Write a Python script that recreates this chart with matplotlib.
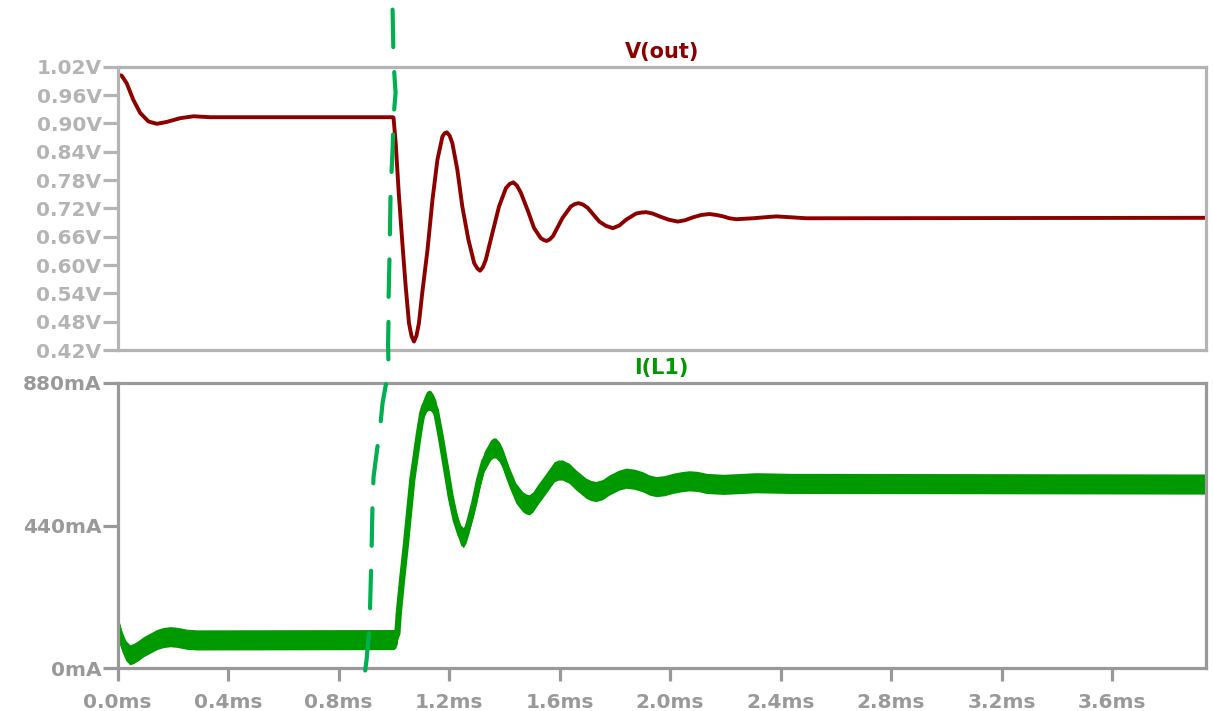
import numpy as np
import matplotlib
matplotlib.use('Agg')
import matplotlib.pyplot as plt
from matplotlib.ticker import FixedLocator, FuncFormatter

# V(out) (time in ms, volts)
t_v = [0.000, 0.015, 0.033, 0.057, 0.082, 0.112, 0.142, 0.178, 0.227, 0.275,
       0.336, 0.444, 0.996, 0.999, 1.007, 1.018, 1.031, 1.043, 1.055, 1.064,
       1.073, 1.082, 1.091, 1.103, 1.122, 1.140, 1.158, 1.176, 1.184, 1.192,
       1.202, 1.212, 1.230, 1.248, 1.270, 1.291, 1.302, 1.312, 1.322, 1.333,
       1.357, 1.381, 1.406, 1.420, 1.433, 1.446, 1.460, 1.484, 1.508, 1.532,
       1.543, 1.553, 1.564, 1.576, 1.611, 1.641, 1.655, 1.669, 1.685, 1.702,
       1.744, 1.768, 1.793, 1.817, 1.841, 1.877, 1.895, 1.913, 1.937, 1.962,
       1.995, 2.028, 2.055, 2.083, 2.113, 2.143, 2.168, 2.192, 2.215, 2.240,
       2.270, 2.300, 2.340, 2.385, 2.440, 2.494, 3.940]
v_out = [1.003, 1.001, 0.985, 0.950, 0.922, 0.904, 0.899, 0.903, 0.911, 0.915,
         0.913, 0.913, 0.913, 0.912, 0.858, 0.752, 0.647, 0.555, 0.477, 0.450,
         0.438, 0.450, 0.477, 0.541, 0.632, 0.738, 0.823, 0.872, 0.879, 0.881,
         0.874, 0.858, 0.802, 0.724, 0.654, 0.604, 0.593, 0.588, 0.595, 0.611,
         0.668, 0.724, 0.763, 0.772, 0.775, 0.768, 0.753, 0.717, 0.678, 0.657,
         0.653, 0.651, 0.654, 0.661, 0.700, 0.724, 0.729, 0.731, 0.728, 0.721,
         0.692, 0.683, 0.678, 0.684, 0.696, 0.709, 0.711, 0.712, 0.709, 0.703,
         0.696, 0.692, 0.695, 0.701, 0.706, 0.708, 0.706, 0.703, 0.699, 0.697,
         0.698, 0.699, 0.701, 0.703, 0.701, 0.699, 0.700]

# I(L1) centre of the ripple band (time in ms, mA)
t_i = [0.000, 0.015, 0.030, 0.045, 0.060, 0.075, 0.094, 0.142, 0.165, 0.190,
       0.215, 0.251, 0.287, 1.000, 1.007, 1.013, 1.018, 1.030, 1.043, 1.055,
       1.067, 1.079, 1.091, 1.103, 1.110, 1.119, 1.126, 1.133, 1.142, 1.152,
       1.170, 1.188, 1.206, 1.224, 1.242, 1.252, 1.262, 1.272, 1.291, 1.309,
       1.327, 1.351, 1.360, 1.369, 1.382, 1.394, 1.417, 1.442, 1.466, 1.478,
       1.490, 1.503, 1.520, 1.551, 1.581, 1.596, 1.611, 1.635, 1.659, 1.696,
       1.714, 1.732, 1.756, 1.780, 1.815, 1.841, 1.870, 1.901, 1.925, 1.950,
       1.980, 2.010, 2.040, 2.070, 2.100, 2.131, 2.192, 2.312, 2.433, 3.940]
i_l1 = [131, 85, 55, 42, 47, 55, 67, 89, 95, 98,
        96, 90, 88, 89, 94, 108, 170, 273, 375, 478,
        581, 652, 724, 786, 806, 822, 826, 825, 815, 796,
        714, 622, 529, 457, 411, 403, 418, 447, 509, 581,
        637, 673, 679, 679, 667, 647, 591, 540, 514, 507,
        504, 512, 534, 570, 606, 611, 611, 601, 581, 555,
        548, 545, 551, 565, 580, 586, 583, 575, 565, 560,
        563, 570, 575, 578, 576, 570, 567, 572, 570, 568]
ripple = 31  # half height of the switching ripple band, mA

# hand drawn dashed marker, in the lower pane's units (ms, mA)
mark_t = [0.9956, 0.9993, 1.0065, 0.9993, 0.9956, 0.9884, 0.9848, 0.9811, 0.9811,
          0.9793, 0.9811, 0.9594, 0.9521, 0.9267, 0.9231, 0.9195, 0.9122, 0.9014, 0.8850]
mark_i = [2029, 1865, 1773, 1699, 1597, 1468, 1280, 1136, 1083,
          997, 920, 818, 756, 590, 510, 359, 128, 26, -82]

x_ticks = [0.0, 0.4, 0.8, 1.2, 1.6, 2.0, 2.4, 2.8, 3.2, 3.6]
v_ticks = [0.42, 0.48, 0.54, 0.60, 0.66, 0.72, 0.78, 0.84, 0.90, 0.96, 1.02]
i_ticks = [0, 440, 880]

plt.rcParams['font.family'] = ['DejaVu Sans']
plt.rcParams['font.weight'] = 'bold'

fig = plt.figure(figsize=(12.13, 7.11), dpi=100)
ax_v = fig.add_axes([0.0969, 0.5077, 0.8973, 0.3985])
ax_i = fig.add_axes([0.0969, 0.0598, 0.8973, 0.4019])

top_grey = '#b4b4b4'
bot_grey = '#999999'
for ax, col in ((ax_v, top_grey), (ax_i, bot_grey)):
    for sp in ax.spines.values():
        sp.set_color(col)
        sp.set_linewidth(2.3)
    ax.set_xlim(0, 3.94)
    ax.xaxis.set_major_locator(FixedLocator(x_ticks))
    ax.tick_params(axis='y', length=10.5, width=2.3, color=col, labelcolor=col,
                   labelsize=14.5, pad=1)
    ax.tick_params(axis='x', length=9, width=2.3, color=col, labelcolor=col,
                   labelsize=14.5, pad=9)

# V(out)
ax_v.plot(t_v, v_out, color='#8c0000', lw=2.8, solid_joinstyle='round')
ax_v.set_ylim(0.42, 1.02)
ax_v.yaxis.set_major_locator(FixedLocator(v_ticks))
ax_v.yaxis.set_major_formatter(FuncFormatter(lambda v, p: f'{v:.2f}V'))
ax_v.tick_params(axis='x', bottom=False, labelbottom=False)
ax_v.set_title('V(out)', color='#8c0000', fontsize=15, fontweight='bold', pad=6)

# I(L1)
t_arr = np.array(t_i)
i_arr = np.array(i_l1, dtype=float)
ax_i.fill_between(t_arr, i_arr - ripple, i_arr + ripple, color='#009900', lw=0)
ax_i.plot(t_arr, i_arr, color='#009900', lw=4.5, solid_joinstyle='round')
ax_i.set_ylim(0, 880)
ax_i.yaxis.set_major_locator(FixedLocator(i_ticks))
ax_i.yaxis.set_major_formatter(FuncFormatter(lambda v, p: f'{v:.0f}mA'))
ax_i.xaxis.set_major_formatter(FuncFormatter(lambda v, p: f'{v:.1f}ms'))
ax_i.set_title('I(L1)', color='#009900', fontsize=15, fontweight='bold', pad=6)

# dashed marker crossing both panes
ax_i.plot(mark_t, mark_i, color='#00b050', lw=3, dashes=(9, 6),
          dash_capstyle='round', clip_on=False, zorder=5)

fig.savefig('out.png', dpi=100)
